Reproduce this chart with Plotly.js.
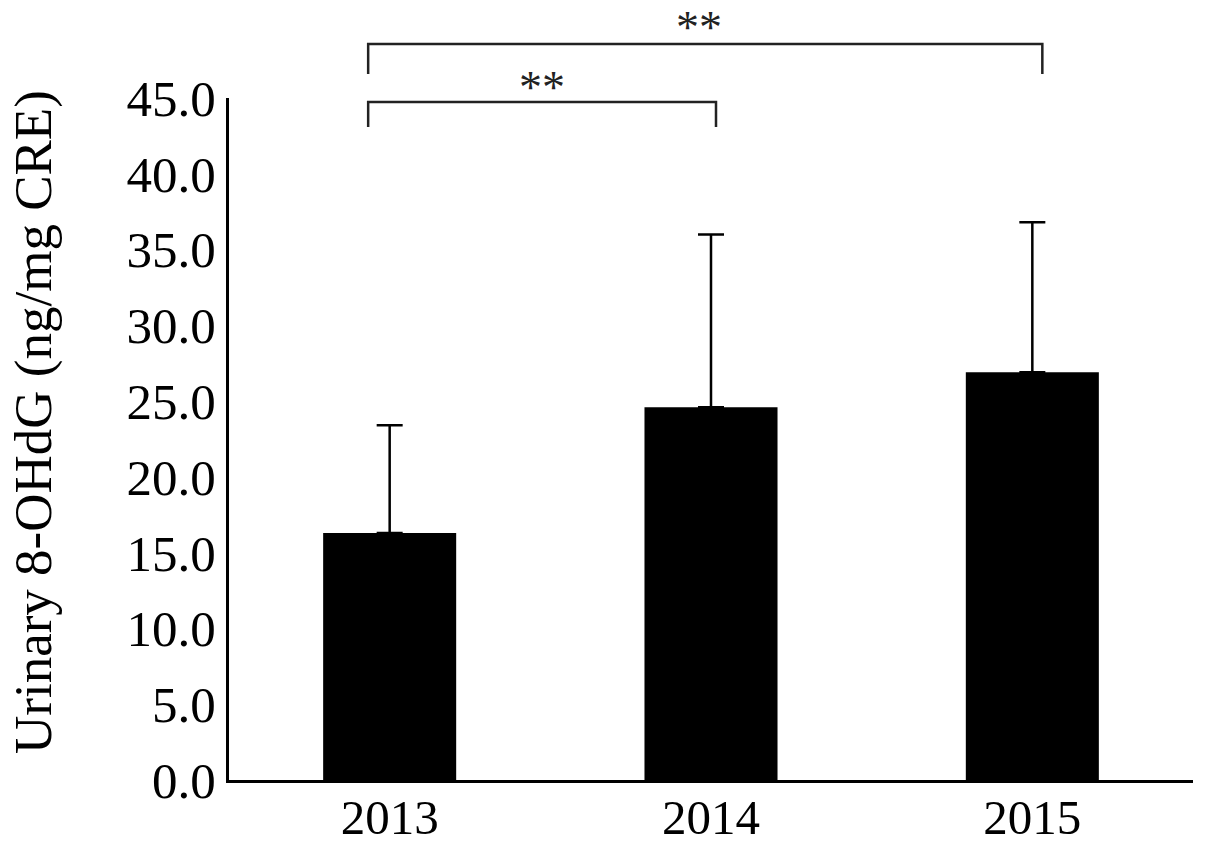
<!DOCTYPE html>
<html>
<head>
<meta charset="utf-8">
<script src="https://cdn.plot.ly/plotly-3.0.1.min.js"></script>
<style>html,body{margin:0;padding:0;background:#fff;}#chart{width:1205px;height:847px;}</style>
</head>
<body>
<div id="chart"></div>
<script>
// Data
var years = ['2013', '2014', '2015'];
var means = [16.3, 24.6, 26.9];
var sds = [7.1, 11.4, 9.9];
var yTickVals = [0, 5, 10, 15, 20, 25, 30, 35, 40, 45];
var yTickText = ['0.0', '5.0', '10.0', '15.0', '20.0', '25.0', '30.0', '35.0', '40.0', '45.0'];
var yTitle = 'Urinary 8-OHdG (ng/mg CRE)';
var compFrom = [0, 0];
var compTo = [1, 2];
var compLabel = ['**', '**'];

// Layout geometry (pixels)
var W = 1205, H = 847;
var mL = 229, mR = 12, mT = 98, mB = 67;
var plotW = W - mL - mR, plotH = H - mT - mB;
function px2paperX(px) { return (px - mL) / plotW; }
function py2paperY(py) { return (H - mB - py) / plotH; }
function catCenterPx(i) { return mL + (i + 0.5) * plotW / years.length; }

// bracket styling offsets (pixels)
var bracketTopPx = [102, 44];
var bracketDrop = [25, 30];
var leftOffset = -21.5;
var rightOffset = [5, 10];
var starX = [542, 699];
var starY = [87, 27];

var shapes = [];
var annotations = [];
for (var k = 0; k < compFrom.length; k++) {
  var x0 = px2paperX(catCenterPx(compFrom[k]) + leftOffset);
  var x1 = px2paperX(catCenterPx(compTo[k]) + rightOffset[k]);
  var yTop = py2paperY(bracketTopPx[k]);
  var yBot = py2paperY(bracketTopPx[k] + bracketDrop[k]);
  shapes.push({
    type: 'path', xref: 'paper', yref: 'paper',
    path: 'M ' + x0 + ' ' + yBot + ' L ' + x0 + ' ' + yTop + ' L ' + x1 + ' ' + yTop + ' L ' + x1 + ' ' + yBot,
    line: {color: '#222', width: 2.5}
  });
  annotations.push({
    xref: 'paper', yref: 'paper', x: px2paperX(starX[k]), y: py2paperY(starY[k]),
    text: compLabel[k], showarrow: false, xanchor: 'center', yanchor: 'middle',
    font: {family: 'Liberation Serif', size: 46, color: '#222'}
  });
}
annotations.push({
  xref: 'paper', yref: 'paper', x: px2paperX(33), y: py2paperY(422),
  text: yTitle, showarrow: false, textangle: -90, xanchor: 'center', yanchor: 'middle',
  font: {family: 'Liberation Serif', size: 53, color: '#000'}
});

var trace = {
  type: 'bar', x: years, y: means, width: 0.414,
  marker: {color: '#000', line: {width: 0}},
  error_y: {type: 'data', symmetric: false, array: sds, arrayminus: [0, 0, 0],
            width: 13, thickness: 2.5, color: '#000'}
};

var layout = {
  width: W, height: H,
  margin: {l: mL, r: mR, t: mT, b: mB, pad: 0},
  paper_bgcolor: '#fff', plot_bgcolor: '#fff',
  showlegend: false,
  xaxis: {
    type: 'category', range: [-0.5, 2.5], showgrid: false, zeroline: false,
    showline: true, linecolor: '#000', linewidth: 3, ticks: '',
    tickfont: {family: 'Liberation Serif', size: 49, color: '#000'},
    ticklabelstandoff: -8
  },
  yaxis: {
    range: [0, 45], showgrid: false, zeroline: false,
    showline: true, linecolor: '#000', linewidth: 3, ticks: '',
    tickvals: yTickVals, ticktext: yTickText,
    tickfont: {family: 'Liberation Serif', size: 51, color: '#000'},
    ticklabelstandoff: 0
  },
  shapes: shapes,
  annotations: annotations
};

Plotly.newPlot('chart', [trace], layout, {displayModeBar: false, staticPlot: true});
</script>
</body>
</html>
